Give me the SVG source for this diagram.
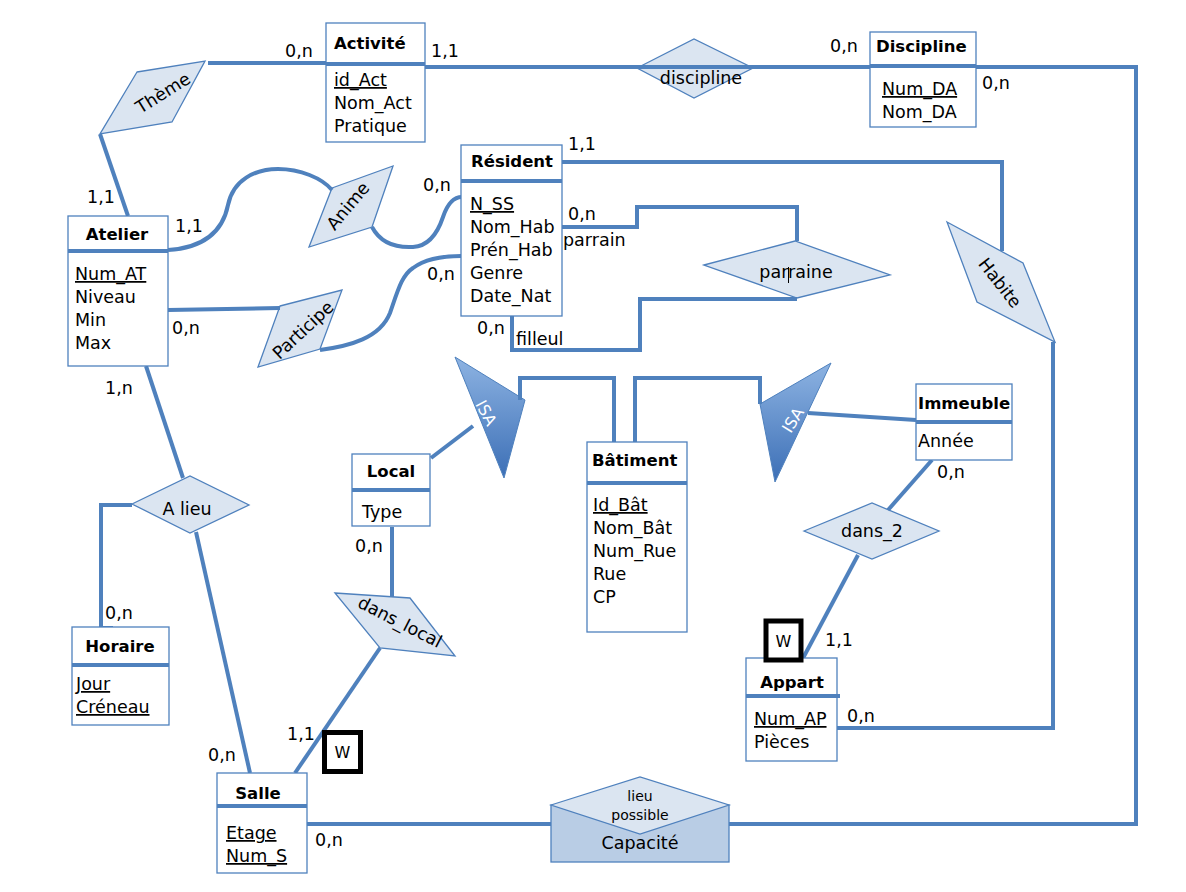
<svg xmlns="http://www.w3.org/2000/svg" width="1186" height="892" viewBox="0 0 1186 892">
<defs>
<style>
text{font-family:"DejaVu Sans","Liberation Sans",sans-serif;font-size:17.5px;fill:#000}
.t{font-weight:bold;font-size:16.5px}
.k{text-decoration:underline}
.m{text-anchor:middle}
.r{text-anchor:middle;dominant-baseline:central}
.isa{fill:#fff;font-size:16px}
.ent{fill:#fff;stroke:#4f81bd;stroke-width:1.3}
.div{stroke:#4f81bd;stroke-width:4}
.rel{fill:#dbe5f1;stroke:#4f81bd;stroke-width:1.3}
.conn path{fill:none;stroke:#4f81bd;stroke-width:4}
.w{fill:#fff;stroke:#000;stroke-width:5}
</style>
<linearGradient id="gI" x1="0" y1="0" x2="0" y2="1">
<stop offset="0" stop-color="#8db3e2"/>
<stop offset="1" stop-color="#3c6fb6"/>
</linearGradient>
</defs>
<rect width="1186" height="892" fill="#fff"/>

<!-- relationships -->
<g id="theme"><polygon class="rel" points="137,72 205,61 172,122 100,134"/><text class="r" transform="translate(163,93) rotate(-32)">Thème</text></g>
<g id="anime"><polygon class="rel" points="332,188 393,166 372,227 309,247"/><text class="r" transform="translate(348,206) rotate(-50)">Anime</text></g>
<g id="participe"><polygon class="rel" points="280,306 342,290 320,349 258,367"/><text class="r" transform="translate(303,330) rotate(-43)">Participe</text></g>
<g id="discipline-rel"><polygon class="rel" points="637,68 694,39 753,68 694,98"/><text class="m" x="701" y="84">discipline</text></g>
<g id="parraine"><polygon class="rel" points="704,265 795,241 890,275 797,298"/><text class="m" x="796" y="278">parraine</text><line x1="788.5" y1="267" x2="788.5" y2="283" stroke="#000" stroke-width="1"/></g>
<g id="habite"><polygon class="rel" points="947,222 1023,263 1055,342 977,302"/><text class="r" transform="translate(1000,283) rotate(52)">Habite</text></g>
<g id="alieu"><polygon class="rel" points="132,504 190,476 249,505 190,533"/><text class="m" x="187" y="515">A lieu</text></g>
<g id="dans_local"><polygon class="rel" points="335,593 410,598 455,656 380,648"/><text class="r" transform="translate(400,622) rotate(27)">dans_local</text></g>
<g id="dans_2"><polygon class="rel" points="804,531 872,503 939,531 872,559"/><text class="m" x="872" y="537">dans_2</text></g>
<g id="isa1"><polygon points="455,357 525,400 504,478" fill="url(#gI)" stroke="#4f81bd" stroke-width="1"/><text class="r isa" transform="translate(486,413) rotate(62)">ISA</text></g>
<g id="isa2"><polygon points="831,363 760,404 775,482" fill="url(#gI)" stroke="#4f81bd" stroke-width="1"/><text class="r isa" transform="translate(793,420) rotate(-58)">ISA</text></g>

<!-- connectors -->
<g class="conn" id="connectors">
<path d="M208,63 H326"/>
<path d="M100,134 L128,216"/>
<path d="M425,67 H870"/>
<path d="M976,67 H1136 V824 H729"/>
<path d="M551,824 H307"/>
<path d="M168,250 C200,248 222,235 228,205 C233,180 255,169 278,169 C300,169 322,178 332,190"/>
<path d="M372,227 C380,242 395,248 413,247 C430,246 438,232 443,217 C447,205 453,197 462,197"/>
<path d="M168,310 L280,308"/>
<path d="M320,350 C350,346 380,338 390,313 C398,290 402,275 413,268 C425,259 440,256 461,256"/>
<path d="M562,227 H637 V207 H797 V241"/>
<path d="M797,299 H640 V350 H512 V316"/>
<path d="M562,162 H1002 V251"/>
<path d="M1053,342 V728 H837"/>
<path d="M146,366 L183,478"/>
<path d="M132,505 H101 V628 H113"/>
<path d="M196,532 L250,773"/>
<path d="M295,773 L380,648"/>
<path d="M392,527 V597"/>
<path d="M431,458 L473,426"/>
<path d="M520,400 V378 H614 V442"/>
<path d="M635,442 V378 H760 V404"/>
<path d="M808,413 L916,420"/>
<path d="M932,460 L888,510"/>
<path d="M858,555 L802,660"/>
</g>

<!-- lieu possible -->
<g id="lieu_possible"><rect x="551" y="805" width="178" height="57" fill="#b9cde5" stroke="#4f81bd" stroke-width="1.3"/><polygon class="rel" points="551,805 640,777 729,805 640,834"/><text class="m" x="640" y="801" style="font-size:14px">lieu</text><text class="m" x="640" y="820" style="font-size:14px">possible</text><text class="m" x="640" y="849">Capacité</text></g>

<!-- entities -->
<g id="activite"><rect class="ent" x="326" y="23" width="99" height="119"/><line class="div" x1="326" y1="64" x2="425" y2="64"/><text class="t" x="334" y="49">Activité</text><text class="k" x="334" y="86">id_Act</text><text x="334" y="109">Nom_Act</text><text x="334" y="132">Pratique</text></g>
<g id="discipline"><rect class="ent" x="870" y="32" width="106" height="95"/><line class="div" x1="870" y1="66" x2="976" y2="66"/><text class="t" x="876" y="52">Discipline</text><text class="k" x="882" y="95">Num_DA</text><text x="882" y="118">Nom_DA</text></g>
<g id="atelier"><rect class="ent" x="68" y="216" width="100" height="150"/><line class="div" x1="68" y1="251" x2="168" y2="251"/><text class="t m" x="117" y="240">Atelier</text><text class="k" x="75" y="280">Num_AT</text><text x="75" y="303">Niveau</text><text x="75" y="326">Min</text><text x="75" y="349">Max</text></g>
<g id="resident"><rect class="ent" x="461" y="145" width="101" height="171"/><line class="div" x1="461" y1="181" x2="562" y2="181"/><text class="t" x="471" y="167">Résident</text><text class="k" x="470" y="210">N_SS</text><text x="470" y="233">Nom_Hab</text><text x="470" y="256">Prén_Hab</text><text x="470" y="279">Genre</text><text x="470" y="302">Date_Nat</text></g>
<g id="local"><rect class="ent" x="352" y="454" width="78" height="72"/><line class="div" x1="352" y1="490" x2="430" y2="490"/><text class="t m" x="391" y="477">Local</text><text x="362" y="518">Type</text></g>
<g id="batiment"><rect class="ent" x="587" y="442" width="100" height="190"/><line class="div" x1="587" y1="483" x2="687" y2="483"/><text class="t" x="592" y="466">Bâtiment</text><text class="k" x="593" y="511">Id_Bât</text><text x="593" y="534">Nom_Bât</text><text x="593" y="557">Num_Rue</text><text x="593" y="580">Rue</text><text x="593" y="603">CP</text></g>
<g id="immeuble"><rect class="ent" x="916" y="384" width="96" height="76"/><line class="div" x1="916" y1="422" x2="1012" y2="422"/><text class="t" x="918" y="409">Immeuble</text><text x="918" y="447">Année</text></g>
<g id="appart"><rect class="ent" x="746" y="658" width="91" height="103"/><line class="div" x1="746" y1="696" x2="840" y2="696"/><text class="t m" x="792" y="688">Appart</text><text class="k" x="754" y="725">Num_AP</text><text x="754" y="748">Pièces</text></g>
<g id="horaire"><rect class="ent" x="72" y="627" width="97" height="98"/><line class="div" x1="72" y1="665" x2="169" y2="665"/><text class="t m" x="120" y="652">Horaire</text><text class="k" x="76" y="690">Jour</text><text class="k" x="76" y="713">Créneau</text></g>
<g id="salle"><rect class="ent" x="217" y="773" width="90" height="100"/><line class="div" x1="217" y1="806" x2="307" y2="806"/><text class="t m" x="258" y="799">Salle</text><text class="k" x="226" y="839">Etage</text><text class="k" x="226" y="862">Num_S</text></g>

<!-- weak markers -->
<g id="w_appart"><rect class="w" x="766" y="621" width="35" height="39"/><text class="m" x="783.5" y="647" style="font-size:16px">W</text></g>
<g id="w_salle"><rect class="w" x="324.5" y="732.5" width="36" height="39"/><text class="m" x="342.5" y="758" style="font-size:16px">W</text></g>

<!-- cardinalities -->
<g id="labels">
<text x="285" y="57">0,n</text>
<text x="431" y="57">1,1</text>
<text x="830" y="52">0,n</text>
<text x="982" y="89">0,n</text>
<text x="87" y="203">1,1</text>
<text x="175" y="232">1,1</text>
<text x="423" y="191">0,n</text>
<text x="172" y="334">0,n</text>
<text x="427" y="280">0,n</text>
<text x="568" y="150">1,1</text>
<text x="568" y="220">0,n</text>
<text x="563" y="246">parrain</text>
<text x="477" y="334">0,n</text>
<text x="516" y="345">filleul</text>
<text x="105" y="394">1,n</text>
<text x="105" y="619">0,n</text>
<text x="208" y="761">0,n</text>
<text x="287" y="740">1,1</text>
<text x="315" y="846">0,n</text>
<text x="355" y="552">0,n</text>
<text x="937" y="478">0,n</text>
<text x="825" y="646">1,1</text>
<text x="847" y="722">0,n</text>
</g>
</svg>
